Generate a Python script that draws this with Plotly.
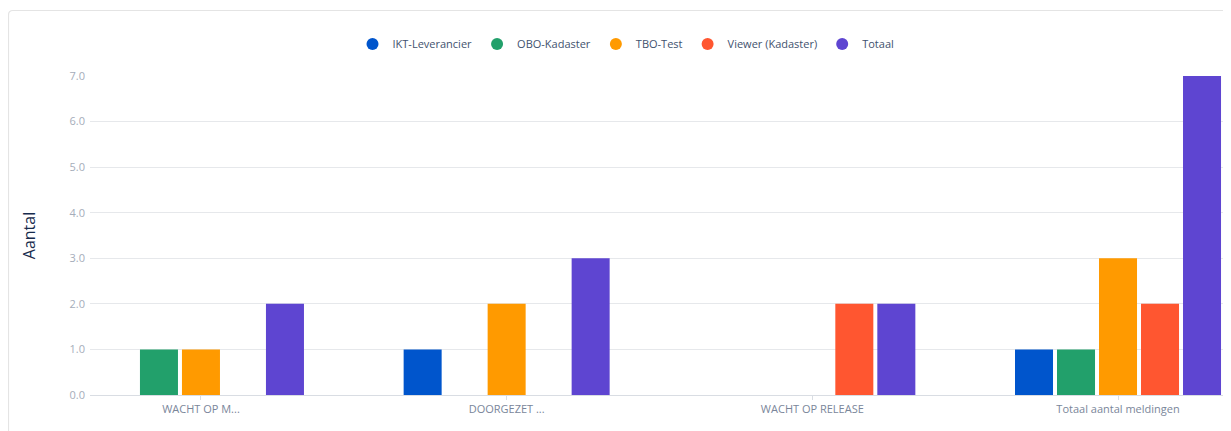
import plotly.graph_objects as go

categories = ["WACHT OP M...", "DOORGEZET ...", "WACHT OP RELEASE", "Totaal aantal meldingen"]
series_names = ["IKT-Leverancier", "OBO-Kadaster", "TBO-Test", "Viewer (Kadaster)", "Totaal"]
ikt = [None, 1, None, 1]
obo = [1, None, None, 1]
tbo = [1, 2, None, 3]
viewer = [None, None, 2, 2]
totaal = [2, 3, 2, 7]
colors = ["#0055CC", "#22A06B", "#FF9A00", "#FF5630", "#5E45D1"]
y_ticks = [0, 1, 2, 3, 4, 5, 6, 7]

series_values = [ikt, obo, tbo, viewer, totaal]

fig = go.Figure()
for name, vals, col in zip(series_names, series_values, colors):
    fig.add_trace(go.Bar(
        x=categories, y=vals, name=name, marker=dict(color=col, line=dict(width=0)),
        showlegend=False,
    ))
for name, col in zip(series_names, colors):
    fig.add_trace(go.Scatter(
        x=[None], y=[None], mode="markers", name=name,
        marker=dict(symbol="circle", size=9, color=col),
        showlegend=True,
    ))

OFF = 8  # page body margin
W, H = 1231 - OFF, 431 - OFF
# target page pixels: plot left 90, right 1225, top 76, bottom 395
L = 90 - OFF
T = 76 - OFF
R = (OFF + W) - 1225
B = (OFF + H) - 395
pw = W - L - R
ph = H - T - B

def px_x(p):  # page pixel -> paper
    return (p - 90) / pw

def px_y(p):
    return 1 + (76 - p) / ph

# card border (rounded corner top-left)
x0 = px_x(8.5); x1 = px_x(1240); y0 = px_y(10.5); yb = px_y(440)
xr = px_x(13); yr = px_y(15)
fig.add_shape(type="path", xref="paper", yref="paper",
              path=f"M {x0} {yb} L {x0} {yr} Q {x0} {y0} {xr} {y0} L {x1} {y0}",
              line=dict(color="#e4e4e4", width=1.2), layer="below")

fig.update_layout(
    width=W, height=H,
    margin=dict(l=L, r=R, t=T, b=B),
    paper_bgcolor="white", plot_bgcolor="white",
    barmode="group", bargap=0.313, bargroupgap=0.095,
    font=dict(family="Open Sans, Noto Sans, sans-serif", size=11, color="#8993a4"),
    legend=dict(orientation="h", x=px_x(626), xanchor="center", y=px_y(44), yanchor="middle",
                font=dict(size=11, color="#42526e"), itemwidth=30, itemsizing="constant",
                tracegroupgap=0, bgcolor="rgba(0,0,0,0)"),
    xaxis=dict(type="category", range=[-0.363, 3.35], showgrid=False,
               showline=True, linecolor="#d9dde3", linewidth=1,
               ticks="outside", ticklen=4, tickcolor="#d9dde3",
               tickfont=dict(size=11, color="#7a869a"), fixedrange=True),
    yaxis=dict(range=[0, 7], tickvals=y_ticks, tickformat=".1f",
               showgrid=True, gridcolor="#e6e8eb", gridwidth=1, zeroline=False,
               ticks="", ticklabelstandoff=4,
               tickfont=dict(size=11, color="#a5adba"),
               title=dict(text="Aantal", font=dict(size=16, color="#172b4d"), standoff=29),
               fixedrange=True),
)

fig.write_html("out.html")
